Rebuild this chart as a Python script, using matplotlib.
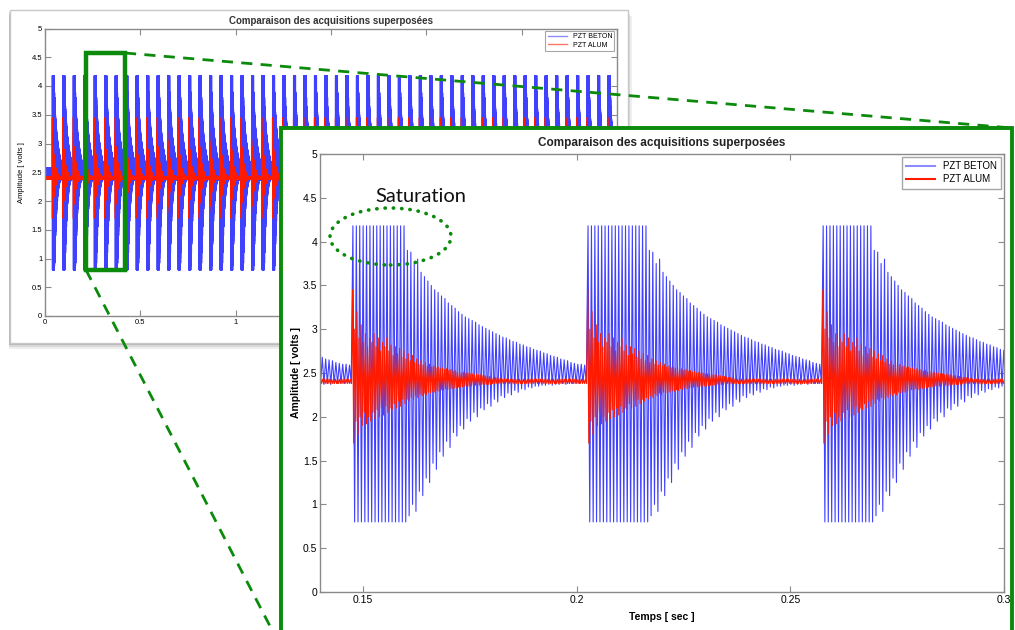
import matplotlib
matplotlib.use("Agg")
import matplotlib.pyplot as plt
from matplotlib.patches import Rectangle, Ellipse
from matplotlib.lines import Line2D
from matplotlib.ticker import FormatStrFormatter

W, H = 1015, 630

# ---------------- data ----------------
burst_period = 0.055          # one shock every 55 ms
first_burst = 0.0375
n_bursts = 54
zoom_bursts = [2, 3, 4]       # bursts shown in the zoomed view
beton_sat_cycles = [16, 18, 15]
beton_sat_default = 16
beton_sat_hi = 4.18
beton_sat_lo = 0.8
beton_cycles = 69
# PZT BETON peaks after the saturated part (one value per cycle)
beton_hi = [3.9, 3.88, 3.75, 3.8, 3.65, 3.6, 3.55, 3.5, 3.45, 3.42,
            3.38, 3.35, 3.3, 3.27, 3.24, 3.2, 3.17, 3.14, 3.12, 3.1,
            3.08, 3.05, 3.03, 3.01, 2.99, 2.97, 2.95, 2.93, 2.91, 2.9,
            2.88, 2.86, 2.85, 2.83, 2.82, 2.8, 2.79, 2.77, 2.76, 2.75,
            2.73, 2.72, 2.7, 2.69, 2.68, 2.66, 2.65, 2.64, 2.62, 2.61,
            2.6, 2.6, 2.59, 2.58, 2.58]
beton_lo = [0.87, 1.0, 0.92, 1.15, 1.1, 1.3, 1.25, 1.47, 1.4, 1.6,
            1.55, 1.72, 1.65, 1.82, 1.78, 1.9, 1.86, 1.98, 1.95, 2.05,
            2.0, 2.1, 2.08, 2.15, 2.12, 2.2, 2.17, 2.24, 2.22, 2.27,
            2.25, 2.3, 2.28, 2.32, 2.31, 2.34, 2.33, 2.35, 2.35, 2.36,
            2.36, 2.37, 2.36, 2.37, 2.37, 2.38, 2.37, 2.38, 2.38, 2.38,
            2.38, 2.39, 2.38, 2.39, 2.39]
# PZT ALUM peaks (one value per cycle), then a flat tail
alum_cycles = 110
alum_hi = [3.45, 3.0, 3.2, 2.9, 3.05, 2.85, 2.95, 2.8, 2.9, 2.85,
           2.95, 2.8, 2.9, 2.75, 2.85, 2.8, 2.9, 2.75, 2.82, 2.7,
           2.8, 2.72, 2.78, 2.68, 2.75, 2.66, 2.72, 2.64, 2.7, 2.62,
           2.66, 2.6, 2.64, 2.59, 2.62, 2.58, 2.6, 2.57, 2.58, 2.56,
           2.57, 2.55, 2.56, 2.54, 2.55, 2.53, 2.54, 2.52, 2.53, 2.51,
           2.52, 2.5, 2.51, 2.5, 2.5, 2.49, 2.49, 2.48, 2.49, 2.48,
           2.48, 2.47, 2.47, 2.46, 2.46, 2.45, 2.45, 2.45, 2.44, 2.44]
alum_lo = [1.7, 1.95, 1.8, 2.0, 1.9, 2.05, 1.92, 2.0, 1.95, 2.05,
           1.98, 2.08, 2.0, 2.1, 2.02, 2.12, 2.05, 2.1, 2.08, 2.15,
           2.1, 2.18, 2.12, 2.2, 2.15, 2.2, 2.18, 2.22, 2.2, 2.24,
           2.22, 2.26, 2.24, 2.27, 2.25, 2.28, 2.27, 2.29, 2.28, 2.3,
           2.29, 2.31, 2.3, 2.32, 2.31, 2.33, 2.32, 2.33, 2.33, 2.34,
           2.34, 2.34, 2.35, 2.35, 2.35, 2.35, 2.36, 2.36, 2.36, 2.36,
           2.37, 2.37, 2.37, 2.37, 2.37, 2.38, 2.38, 2.38, 2.38, 2.38]
alum_tail_hi = 2.43
alum_tail_lo = 2.38

title = "Comparaison des acquisitions superposées"
labels = ["PZT BETON", "PZT ALUM"]


def build(n_cycles, sat_of, sat_hi, sat_lo, his, los, tail_hi, tail_lo):
    period = burst_period / n_cycles
    ts, ys = [], []
    # quiet lead-in before the first shock
    k = 0
    while k * period < first_burst:
        ts += [k * period + period / 4, k * period + 3 * period / 4]
        ys += [tail_hi, tail_lo]
        k += 1
    for b in range(n_bursts):
        start = first_burst + b * burst_period
        ns = sat_of(b)
        hi = [sat_hi] * ns + his
        lo = [sat_lo] * ns + los
        for i in range(n_cycles):
            h = hi[i] if i < len(hi) else tail_hi
            l = lo[i] if i < len(lo) else tail_lo
            tc = start + i * period
            ts += [tc + period / 4, tc + 3 * period / 4]
            ys += [h, l]
    return ts, ys


def beton_sat(b):
    if b in zoom_bursts:
        return beton_sat_cycles[zoom_bursts.index(b)]
    return beton_sat_default


t_b, y_b = build(beton_cycles, beton_sat, beton_sat_hi, beton_sat_lo,
                 beton_hi, beton_lo, beton_hi[-1], beton_lo[-1])
t_a, y_a = build(alum_cycles, lambda b: 0, 0, 0,
                 alum_hi, alum_lo, alum_tail_hi, alum_tail_lo)

plt.rcParams['font.family'] = ['Liberation Sans', 'DejaVu Sans']
fig = plt.figure(figsize=(W / 100, H / 100), dpi=100)
fig.patch.set_facecolor('white')

GREEN = '#0b8a0b'
BLUE = '#4040ff'
RED = '#ff1a00'


def fx(px):
    return px / W


def fy(py):
    return 1 - py / H


def px_rect(x0, y0, x1, y1, **kw):
    r = Rectangle((fx(x0), fy(y1)), (x1 - x0) / W, (y1 - y0) / H,
                  transform=fig.transFigure, **kw)
    fig.add_artist(r)
    return r


def style_axes(ax, fs):
    for s in ax.spines.values():
        s.set_color('#8a8a8a')
        s.set_linewidth(1.0)
    ax.tick_params(direction='in', top=True, right=True, labelsize=fs,
                   color='#8a8a8a', length=4, width=0.8, pad=2)
    ax.set_ylim(0, 5)
    ax.set_yticks([0, 0.5, 1, 1.5, 2, 2.5, 3, 3.5, 4, 4.5, 5])
    ax.yaxis.set_major_formatter(FormatStrFormatter('%g'))
    ax.xaxis.set_major_formatter(FormatStrFormatter('%g'))


# ---- overview panel (shadowed window) ----
for off, a in [(6, 0.10), (4, 0.15), (2, 0.25)]:
    px_rect(10 - 1, 10 + off, 628 + off - 2, 343 + off, facecolor='#606060',
            edgecolor='none', alpha=a, zorder=0.2)
px_rect(10, 10, 628, 343, facecolor='white', edgecolor='#c8c8c8', lw=1.0, zorder=0.3)

ax1 = fig.add_axes([fx(45), fy(316), (617 - 45) / W, (316 - 28.5) / H])
ax1.set_zorder(1)
ax1.plot(t_b, y_b, color=BLUE, lw=0.6, label=labels[0])
ax1.plot(t_a, y_a, color=RED, lw=0.6, label=labels[1])
ax1.set_xlim(0, 3)
ax1.set_xticks([0, 0.5, 1, 1.5, 2, 2.5, 3])
style_axes(ax1, 5.5)
ax1.set_title(title, fontsize=7, fontweight='bold', pad=3, color='#333333')
ax1.set_ylabel('Amplitude [ volts ]', fontsize=5.5, labelpad=5)
h1 = [Line2D([], [], color='#8c8cff', lw=1), Line2D([], [], color=RED, lw=1, alpha=0.6)]
leg1 = ax1.legend(h1, labels, loc='upper right', fontsize=5, frameon=True,
                  fancybox=False, edgecolor='#909090', borderaxespad=0.4,
                  handlelength=2.8, borderpad=0.3, labelspacing=0.2)
leg1.get_frame().set_linewidth(0.8)

# green box in the overview and dashed leaders
px_rect(85.5, 53, 125, 270, facecolor='none', edgecolor=GREEN, lw=3.2, zorder=1.6)
fig.add_artist(Line2D([fx(125), fx(1012)], [fy(53), fy(128)], transform=fig.transFigure,
                      color=GREEN, lw=2.0, dashes=(4, 3), zorder=1.5))
fig.add_artist(Line2D([fx(86), fx(272)], [fy(270), fy(630)], transform=fig.transFigure,
                      color=GREEN, lw=2.0, dashes=(4, 3), zorder=1.5))

# ---- zoomed panel ----
px_rect(281, 128, 1012, 660, facecolor='white', edgecolor=GREEN, lw=2.8, zorder=2)

ax2 = fig.add_axes([fx(320), fy(592), (1004 - 320) / W, (592 - 154) / H])
ax2.set_zorder(3)
ax2.plot(t_b, y_b, color=BLUE, lw=0.8)
ax2.plot(t_a, y_a, color=RED, lw=0.8)
ax2.set_xlim(0.14, 0.30)
ax2.set_xticks([0.15, 0.2, 0.25, 0.3])
style_axes(ax2, 7.5)
ax2.set_title(title, fontsize=8.5, fontweight='bold', pad=6, color='#222222')
ax2.set_ylabel('Amplitude [ volts ]', fontsize=7.5, fontweight='bold', labelpad=1)
ax2.set_xlabel('Temps [ sec ]', fontsize=7.5, fontweight='bold', labelpad=5)
h2 = [Line2D([], [], color='#8c8cff', lw=1.5), Line2D([], [], color=RED, lw=1.5)]
leg2 = ax2.legend(h2, labels, loc='upper right', fontsize=7, frameon=True,
                  fancybox=False, edgecolor='#909090', borderaxespad=0.3,
                  handlelength=3.0, borderpad=0.45, labelspacing=0.3)
leg2.get_frame().set_linewidth(1.0)

# saturation annotation
ell = Ellipse((fx(390.5), fy(236.5)), 121 / W, 57 / H, transform=fig.transFigure,
              facecolor='none', edgecolor=GREEN, lw=2.6, linestyle=(0, (0.1, 2.2)),
              zorder=4)
ell.set_capstyle('round')
fig.add_artist(ell)
fig.text(fx(375), fy(197), 'Saturation', fontsize=14.5, family=['Lato', 'DejaVu Sans'],
         color='#111111', va='center', ha='left', zorder=4)

fig.savefig('out.png', dpi=100, facecolor='white')
